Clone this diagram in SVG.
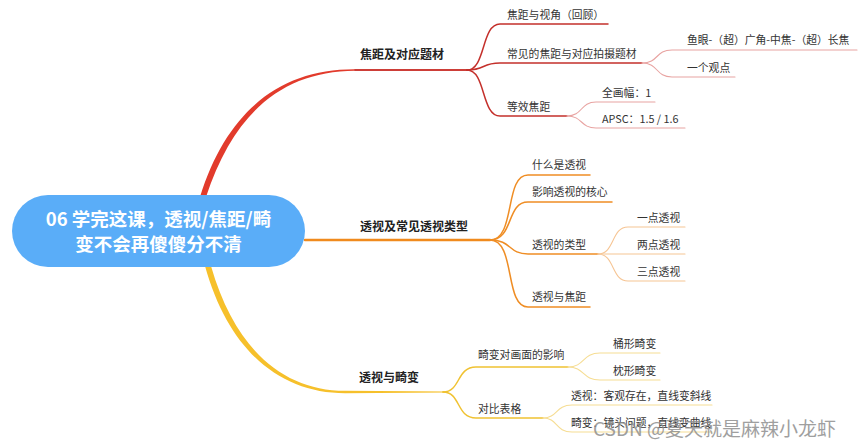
<svg xmlns="http://www.w3.org/2000/svg" width="865" height="447" viewBox="0 0 865 447">
<style>
text{font-family:"Noto Sans CJK SC","Noto Sans",sans-serif;}
.root{fill:#ffffff;font-size:18.5px;font-weight:bold;text-anchor:middle;}
.main{fill:#222;font-size:12px;font-weight:bold;}
.child{fill:#333;font-size:10.8px;}
.c{fill:none;stroke-linecap:round;}
.r1{stroke:#c4302b;stroke-width:1.5;}
.r2{stroke:#e8a3a1;stroke-width:1.1;}
.o0{stroke:#f08a1d;stroke-width:2.5;}
.o1{stroke:#ef8d24;stroke-width:1.5;}
.o2{stroke:#f6c594;stroke-width:1.1;}
.y1{stroke:#f0c232;stroke-width:1.5;}
.y2{stroke:#f6dd93;stroke-width:1.1;}
.wm{fill:#8f8f8f;font-size:19px;opacity:0.85;}
</style>
<rect width="865" height="447" fill="#ffffff"/>
<g id="connectors">
<path d="M200,197 C227,110 281,69 355,69.3 L470,69.3 L470,70.7 L355,70.7 C283,71.3 234,112 206,197 Z" fill="#e23b2c"/>
<path class="c r1" d="M355,70 H467"/>
<path class="c o0" d="M305,240 H490"/>
<path d="M205,266 C229,352 281,393.2 345,393.2 L445,392.6 L445,391.4 L345,390.8 C284,390.8 235,350 211,266 Z" fill="#f6c02b"/>
<path class="c r1" d="M467,70 C486,70 481,24 500,24 H608"/>
<path class="c r1" d="M467,70 C486,70 481,63 500,63 H642"/>
<path class="c r1" d="M467,70 C486,70 481,116 500,116 H567"/>
<path class="c r2" d="M642,63 C659,63 655,50 672,50 H857"/>
<path class="c r2" d="M642,63 C659,63 655,77 672,77 H735"/>
<path class="c r2" d="M567,116 C583,116 580,102 596,102 H655"/>
<path class="c r2" d="M567,116 C583,116 580,128 596,128 H685"/>
<path class="c o1" d="M490,240 C516,240 504,175 528,175 H590"/>
<path class="c o1" d="M490,240 C514,240 506,202 528,202 H612"/>
<path class="c o1" d="M490,240 C512,240 508,254 528,254 H598"/>
<path class="c o1" d="M490,240 C516,240 504,307 528,307 H590"/>
<path class="c o2" d="M598,254 C615,254 611,227 628,227 H685"/>
<path class="c o2" d="M598,254 H685"/>
<path class="c o2" d="M598,254 C615,254 611,281 628,281 H685"/>
<path class="c y1" d="M443,392 C461,392 456,367 476,367 H568"/>
<path class="c y1" d="M443,392 C461,392 456,418 476,418 H543"/>
<path class="c y2" d="M568,367 C585,367 582,353 600,353 H660"/>
<path class="c y2" d="M568,367 C585,367 582,380 600,380 H660"/>
<path class="c y2" d="M543,418 C558,418 555,405 572,405 H712"/>
<path class="c y2" d="M543,418 C558,418 555,432 572,432 H712"/>
</g>
<g id="root">
<rect x="12" y="195" width="293" height="72" rx="36" fill="#5aadf8"/>
<text class="root" x="158.5" y="226">06 学完这课，透视/焦距/畸</text>
<text class="root" x="158.5" y="251">变不会再傻傻分不清</text>
</g>
<g id="n-focal"><text class="main" x="360" y="59">焦距及对应题材</text></g>
<g id="n-focal-1"><text class="child" x="507" y="19">焦距与视角（回顾）</text></g>
<g id="n-focal-2"><text class="child" x="507" y="58">常见的焦距与对应拍摄题材</text></g>
<g id="n-focal-2a"><text class="child" x="687" y="44">鱼眼-（超）广角-中焦-（超）长焦</text></g>
<g id="n-focal-2b"><text class="child" x="687" y="72">一个观点</text></g>
<g id="n-focal-3"><text class="child" x="507" y="111">等效焦距</text></g>
<g id="n-focal-3a"><text class="child" x="602" y="97">全画幅：1</text></g>
<g id="n-focal-3b"><text class="child" x="602" y="123">APSC：1.5 / 1.6</text></g>
<g id="n-persp"><text class="main" x="360" y="231">透视及常见透视类型</text></g>
<g id="n-persp-1"><text class="child" x="532" y="169">什么是透视</text></g>
<g id="n-persp-2"><text class="child" x="532" y="196">影响透视的核心</text></g>
<g id="n-persp-3"><text class="child" x="532" y="249">透视的类型</text></g>
<g id="n-persp-3a"><text class="child" x="637" y="222">一点透视</text></g>
<g id="n-persp-3b"><text class="child" x="637" y="249">两点透视</text></g>
<g id="n-persp-3c"><text class="child" x="637" y="276">三点透视</text></g>
<g id="n-persp-4"><text class="child" x="532" y="301">透视与焦距</text></g>
<g id="n-dist"><text class="main" x="359" y="382">透视与畸变</text></g>
<g id="n-dist-1"><text class="child" x="478" y="359">畸变对画面的影响</text></g>
<g id="n-dist-1a"><text class="child" x="613" y="348">桶形畸变</text></g>
<g id="n-dist-1b"><text class="child" x="613" y="375">枕形畸变</text></g>
<g id="n-dist-2"><text class="child" x="478" y="413">对比表格</text></g>
<g id="n-dist-2a"><text class="child" x="571" y="400">透视：客观存在，直线变斜线</text></g>
<g id="n-dist-2b"><text class="child" x="571" y="427">畸变：镜头问题，直线变曲线</text></g>
<text class="wm" x="593" y="436">CSDN @夏天就是麻辣小龙虾</text>
</svg>
